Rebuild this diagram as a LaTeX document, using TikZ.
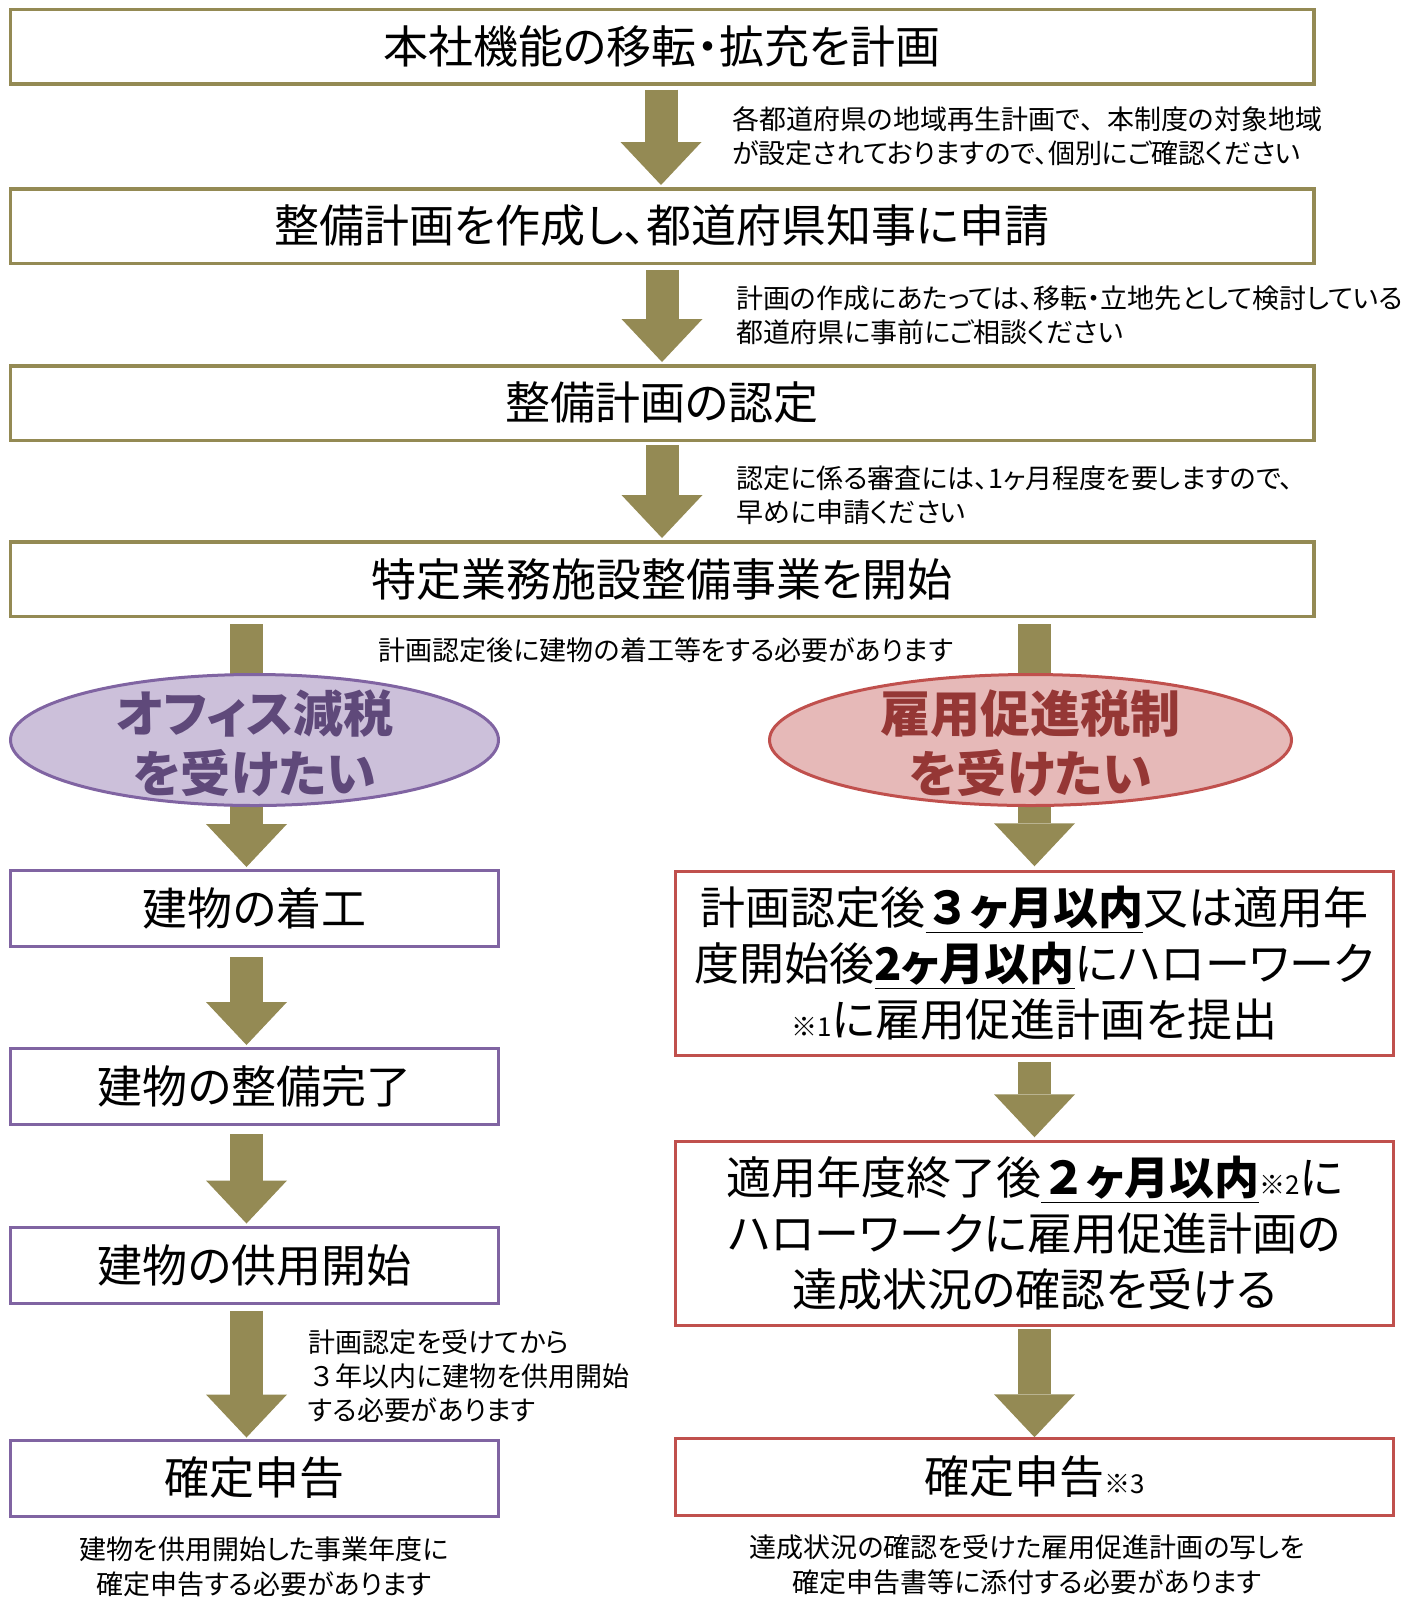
\documentclass[tikz,border=0pt]{standalone}
\usepackage{fontspec}
\setmainfont{Noto Sans CJK JP}[RawFeature=+palt]
\newfontfamily\fwfont{Noto Sans CJK JP}
\usetikzlibrary{arrows.meta,calc,backgrounds,shapes.geometric}
\definecolor{olv}{HTML}{948A54}
\definecolor{purp}{HTML}{8064A2}
\definecolor{purpfill}{HTML}{CCC0DA}
\definecolor{purptext}{HTML}{5F497A}
\definecolor{redb}{HTML}{C0504D}
\definecolor{redfill}{HTML}{E6B9B8}
\definecolor{redtext}{HTML}{953735}
\begin{document}
\begin{tikzpicture}[x=0.5pt,y=-0.5pt,
  topbox/.style={draw=olv, fill=white, line width=1.75pt, minimum width=651.75pt, minimum height=37.25pt, inner sep=0pt, font=\fontsize{22.5pt}{28pt}\selectfont},
  lbox/.style={draw=purp, fill=white, line width=1.5pt, minimum width=244pt, minimum height=38pt, inner sep=0pt, font=\fontsize{22.5pt}{28pt}\selectfont},
  rbox/.style={draw=redb, fill=white, line width=1.5pt, minimum width=359pt, inner sep=0pt, align=center, font=\fontsize{22.5pt}{28pt}\selectfont},
  ellbox/.style={ellipse, line width=1.5pt, minimum height=65.5pt, inner sep=0pt},
  elltext/.style={align=center, inner sep=0pt, font=\fontsize{25pt}{30pt}\selectfont\bfseries},
  flow/.style={olv, line width=16.5pt, -{Triangle[length=21.5pt,width=40.5pt,line width=0pt]}},
  note/.style={align=left, inner sep=0pt, font=\fontsize{13.5pt}{17pt}\selectfont},
  cnote/.style={align=center, inner sep=0pt, font=\fontsize{13.5pt}{17.5pt}\selectfont}]
\useasboundingbox (0,0) rectangle (1408,1597);

% top column
\node[topbox] (b1) at (662,46.5) {本社機能の移転・拡充を計画};
\node[topbox] (b2) at (662,226) {整備計画を作成し、都道府県知事に申請};
\node[topbox] (b3) at (662,403) {整備計画の認定};
\node[topbox] (b4) at (662,579) {特定業務施設整備事業を開始};

\node[note, anchor=west] (n1) at (732,136) {各都道府県の地域再生計画で{\fwfont 、}本制度の対象地域\\が設定されておりますので、個別にご確認ください};
\node[note, anchor=west] (n2) at (736,315) {計画の作成にあたっては、移転・立地先として検討している\\都道府県に事前にご相談ください};
\node[note, anchor=west] (n3) at (736,495) {認定に係る審査には、1ヶ月程度を要しますので、\\早めに申請ください};
\node[cnote] (n4) at (666,650) {計画認定後に建物の着工等をする必要があります};

% ellipses
\node[ellbox, draw=purp, fill=purpfill, minimum width=244pt] (e1) at (254.5,740) {};
\node[elltext, text=purptext] (t1) at (254.5,743) {オフィス減税\\を受けたい};
\node[ellbox, draw=redb, fill=redfill, minimum width=261pt] (e2) at (1030.5,740) {};
\node[elltext, text=redtext] (t2) at (1030.5,743) {雇用促進税制\\を受けたい};

% left column
\node[lbox] (l1) at (254.5,908.5) {建物の着工};
\node[lbox] (l2) at (254.5,1086.5) {建物の整備完了};
\node[lbox] (l3) at (254.5,1265) {建物の供用開始};
\node[lbox] (l4) at (254.5,1478) {確定申告};
\node[note, anchor=west] (n5) at (308,1376) {計画認定を受けてから\\{\fwfont ３}年以内に建物を供用開始\\する必要があります};
\node[cnote] (n6) at (264,1567) {建物を供用開始した事業年度に\\確定申告する必要があります};

% right column
\node[rbox, minimum height=91.75pt] (r1) at (1034.5,963.5) {計画認定後\underline{\textbf{{\fwfont ３}ヶ月以内}}又は適用年\\度開始後\underline{\textbf{2ヶ月以内}}にハローワーク\\{\fontsize{13pt}{13pt}\selectfont ※1}に雇用促進計画を提出};
\node[rbox, minimum height=91.75pt] (r2) at (1034.5,1233.5) {適用年度終了後\underline{\textbf{{\fwfont ２}ヶ月以内}}{\fontsize{13pt}{13pt}\selectfont ※2}に\\ハローワークに雇用促進計画の\\達成状況の確認を受ける};
\node[rbox, minimum height=38.25pt] (r3) at (1034.5,1477) {確定申告{\fontsize{13pt}{13pt}\selectfont ※3}};
\node[cnote] (n7) at (1027,1565) {達成状況の確認を受けた雇用促進計画の写しを\\確定申告書等に添付する必要があります};

\begin{scope}[on background layer]
\draw[flow] ($(b1.south)+(-1,4)$) -- ($(b2.north)+(-1,-2)$);
\draw[flow] ($(b2.south)+(0,5)$) -- ($(b3.north)+(0,-2)$);
\draw[flow] ($(b3.south)+(0,3)$) -- ($(b4.north)+(0,-2)$);
\draw[flow] ($(b4.south -| l1.north)+(-8,6)$) -- ($(l1.north)+(-8,-2)$);
\draw[flow] ($(b4.south -| r1.north)+(0,6)$) -- ($(r1.north)+(0,-4)$);
\draw[flow] ($(l1.south)+(-8,9)$) -- ($(l2.north)+(-8,-2)$);
\draw[flow] ($(l2.south)+(-8,8)$) -- ($(l3.north)+(-8,-2)$);
\draw[flow] ($(l3.south)+(-8,6)$) -- ($(l4.north)+(-8,-1)$);
\draw[flow] ($(r1.south)+(0,5)$) -- ($(r2.north)+(0,-3)$);
\draw[flow] ($(r2.south)+(0,2)$) -- ($(r3.north)+(0,0)$);
\end{scope}
\end{tikzpicture}
\end{document}
